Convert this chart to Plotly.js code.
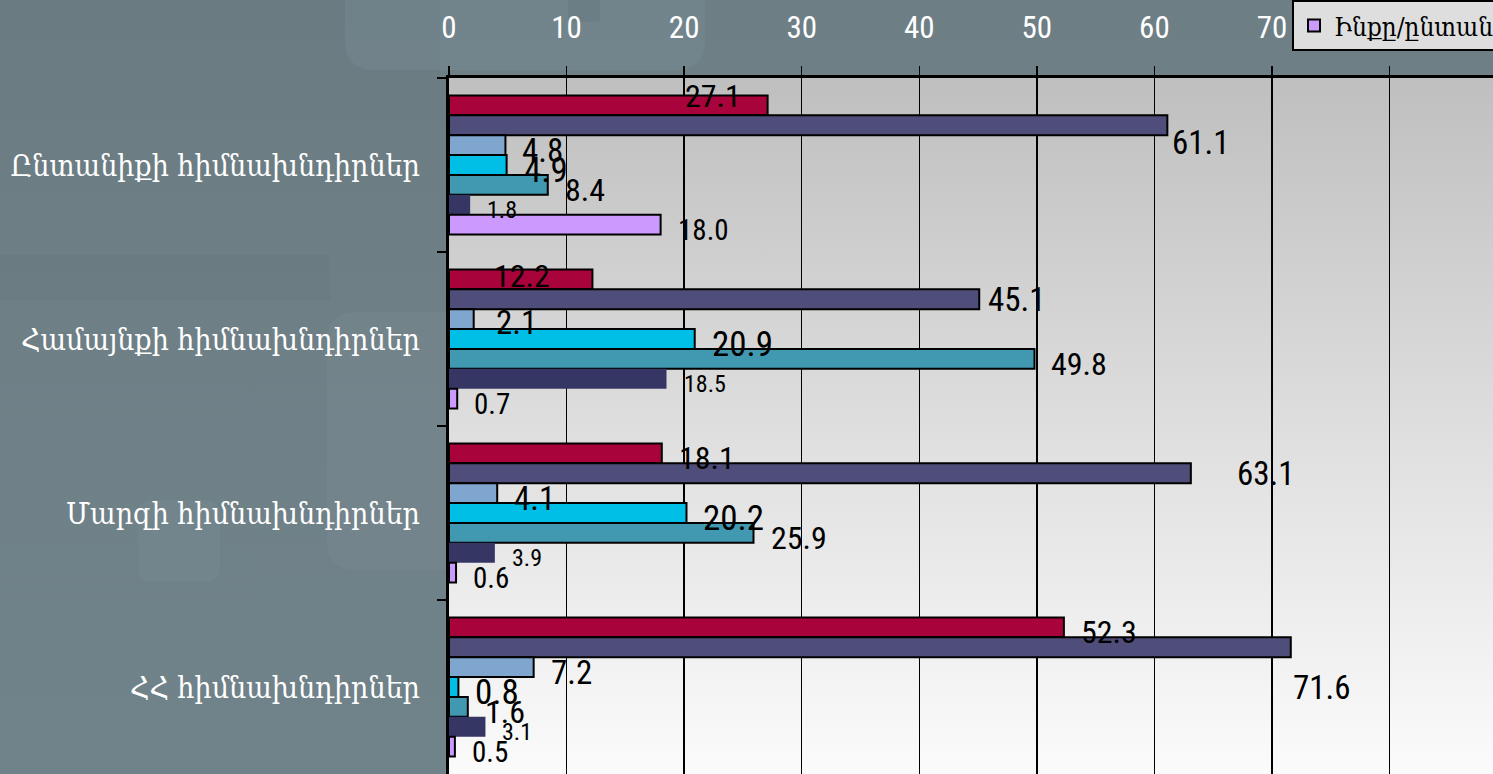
<!DOCTYPE html>
<html>
<head>
<meta charset="utf-8">
<script src="https://cdn.plot.ly/plotly-3.0.1.min.js"></script>
<style>
  html, body { margin: 0; padding: 0; }
  #wrap { position: relative; width: 1493px; height: 774px; overflow: hidden;
          background: linear-gradient(180deg, #6a7b82 0%, #6e7f86 40%, #71838a 100%); }
  .deco { position: absolute; border-radius: 26px; }
  #chart { position: absolute; left: 0; top: 0; width: 1493px; height: 774px; }
</style>
</head>
<body>
<div id="wrap">
  <div class="deco" style="left:440px;top:0;width:1053px;height:78px;background:rgba(140,160,170,0.10);border-radius:0"></div>
  <div class="deco" style="left:345px;top:-40px;width:360px;height:110px;background:rgba(160,180,190,0.12)"></div>
  <div class="deco" style="left:568px;top:-10px;width:32px;height:32px;background:rgba(60,80,90,0.12);border-radius:4px"></div>
  <div class="deco" style="left:0;top:255px;width:330px;height:45px;background:rgba(50,70,80,0.05);border-radius:0"></div>
  <div class="deco" style="left:327px;top:312px;width:160px;height:258px;background:rgba(160,180,190,0.08)"></div>
  <div class="deco" style="left:138px;top:500px;width:82px;height:82px;background:rgba(160,180,190,0.09);border-radius:14px"></div>
  <div id="chart"></div>
</div>
<script>
// ---- data ----
const categories = [
  'Ընտանիքի հիմնախնդիրներ',
  'Համայնքի հիմնախնդիրներ',
  'Մարզի հիմնախնդիրներ',
  'ՀՀ հիմնախնդիրներ'
];
const seriesNames = ['Շարք 1', 'Շարք 2', 'Շարք 3', 'Շարք 4', 'Շարք 5', 'Շարք 6', 'Ինքը/ընտանիքը'];
const series1 = [27.1, 12.2, 18.1, 52.3];
const series2 = [61.1, 45.1, 63.1, 71.6];
const series3 = [4.8, 2.1, 4.1, 7.2];
const series4 = [4.9, 20.9, 20.2, 0.8];
const series5 = [8.4, 49.8, 25.9, 1.6];
const series6 = [1.8, 18.5, 3.9, 3.1];
const series7 = [18.0, 0.7, 0.6, 0.5];
const xTicks = [0, 10, 20, 30, 40, 50, 60, 70, 80];

// ---- styles ----
const allSeries = [series1, series2, series3, series4, series5, series6, series7];
const colors = ['#a8033a', '#4f4d79', '#7ea6cf', '#00bfe6', '#4199b1', '#363665', '#cc99ff'];
const lineWidths = [2, 2, 2, 2, 2, 0, 2];
const labelSizes = [32, 33, 33, 35, 32, 24, 29];
const numFont = '"Liberation Sans Narrow", "Arial Narrow", "Roboto Condensed", "DejaVu Sans Condensed", sans-serif';
const armFont = '"DejaVu Serif Condensed", "DejaVu Sans Condensed", "DejaVu Sans", serif';

// label placement (pixel nudges from the bar end): default, plus a few hand-moved labels
const labelNudgeDefault = [15, 5];
const labelNudge = {
  '0-0': [-85, -9], '0-1': [-100, -3],
  '1-0': [3, 17], '1-1': [7, 0], '1-2': [44, 0], '1-3': [0, 40],
  '2-1': [20, 3]
};

const nSeries = allSeries.length;
const bargap = 0.2;
const slot = (1 - bargap) / nSeries;

const traces = allSeries.map((vals, i) => ({
  type: 'bar',
  orientation: 'h',
  name: seriesNames[i],
  y: categories,
  x: vals,
  marker: { color: colors[i], line: { color: '#000000', width: lineWidths[i] } },
  showlegend: i === nSeries - 1,
  hoverinfo: 'x+name'
}));

const annotations = [];
allSeries.forEach((vals, i) => {
  vals.forEach((v, c) => {
    const nd = labelNudge[i + '-' + c] || labelNudgeDefault;
    annotations.push({
      x: v, xref: 'x',
      y: c - (1 - bargap) / 2 + (i + 0.5) * slot, yref: 'y',
      text: v.toFixed(1),
      showarrow: false,
      xanchor: 'left', yanchor: 'middle',
      xshift: nd[0], yshift: -nd[1],
      font: { family: numFont, size: labelSizes[i], color: '#000000' }
    });
  });
});

const gradSvg = "<svg xmlns='http://www.w3.org/2000/svg' viewBox='0 0 100 100' preserveAspectRatio='none' width='100' height='100'>" +
  "<defs><linearGradient id='g' x1='0' y1='0' x2='0' y2='1'>" +
  "<stop offset='0' stop-color='#bfbfbf'/><stop offset='0.5' stop-color='#dedede'/><stop offset='1' stop-color='#fbfbfb'/>" +
  "</linearGradient></defs><rect x='0' y='0' width='100' height='100' fill='url(#g)'/></svg>";

const layout = {
  width: 1493,
  height: 774,
  margin: { l: 449, r: 0, t: 78, b: 0, autoexpand: false },
  paper_bgcolor: 'rgba(0,0,0,0)',
  plot_bgcolor: 'rgba(0,0,0,0)',
  barmode: 'group',
  bargap: bargap,
  bargroupgap: 0,
  images: [{
    source: 'data:image/svg+xml;charset=utf-8,' + encodeURIComponent(gradSvg),
    xref: 'paper', yref: 'paper', x: 0, y: 1, sizex: 1, sizey: 1,
    xanchor: 'left', yanchor: 'top', sizing: 'stretch', layer: 'below'
  }],
  annotations: annotations,
  xaxis: {
    side: 'top',
    range: [0, 88.8],
    tickvals: xTicks,
    ticktext: xTicks.map(String),
    showgrid: true, gridcolor: '#000000', gridwidth: 1.5,
    zeroline: false,
    showline: true, linecolor: '#000000', linewidth: 3,
    ticks: 'outside', ticklen: 9, tickwidth: 1.5, tickcolor: '#000000',
    tickfont: { family: numFont, size: 31, color: '#ffffff' },
    ticklabelstandoff: 16,
    fixedrange: true
  },
  yaxis: {
    type: 'category',
    autorange: 'reversed',
    tickson: 'boundaries',
    ticks: 'outside', ticklen: 9, tickwidth: 1.5, tickcolor: '#000000',
    showline: true, linecolor: '#000000', linewidth: 3,
    showgrid: false,
    tickfont: { family: armFont, size: 30, color: '#ffffff' },
    ticklabelstandoff: 20,
    fixedrange: true
  },
  legend: {
    x: 1292 / 1493, xref: 'container', xanchor: 'left',
    y: 1, yref: 'container', yanchor: 'top',
    bgcolor: '#dedede', bordercolor: '#000000', borderwidth: 2,
    font: { family: armFont, size: 26, color: '#000000' },
    itemwidth: 30
  },
  showlegend: true
};

Plotly.newPlot('chart', traces, layout, { displayModeBar: false, staticPlot: true });
</script>
</body>
</html>
